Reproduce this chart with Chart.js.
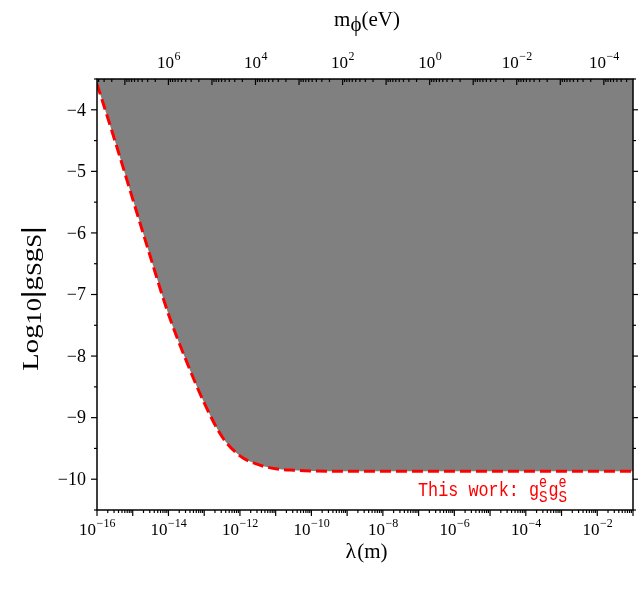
<!DOCTYPE html>
<html><head><meta charset="utf-8">
<script src="https://cdn.jsdelivr.net/npm/chart.js@4/dist/chart.umd.min.js"></script>
<style>html,body{margin:0;padding:0;background:#fff}canvas{display:block}</style>
</head><body>
<canvas id="c" width="638" height="590"></canvas>
<script>
// log10 of lambda (m) and log10 |g g| boundary
const logLambda = [-16, -15.5, -15, -14.5, -14, -13.5, -13, -12.5, -12, -11.5, -11, -10.5, -10, -9, -1];
const logG      = [-3.58, -4.50, -5.45, -6.40, -7.32, -8.08, -8.76, -9.31, -9.62, -9.76, -9.83, -9.855, -9.865, -9.87, -9.87];
const bottomTickExps = [-16, -14, -12, -10, -8, -6, -4, -2];
const topTickExps = [6, 4, 2, 0, -2, -4];
const yTickValues = [-4, -5, -6, -7, -8, -9, -10];
const xRange = [-16, -1];
const topRange = [-4.67, 7.64];
const yRange = [-10.5, -3.5];

const SERIF = '"Liberation Serif", "DejaVu Serif", serif';
const MONO = '"Liberation Mono", "DejaVu Sans Mono", monospace';
const fmt = n => (n < 0 ? '\u2212' + Math.abs(n) : String(n));

function drawPow(ctx, exp, cx, by) {
  ctx.font = '17px ' + SERIF;
  const wb = ctx.measureText('10').width;
  ctx.font = '12px ' + SERIF;
  const e = fmt(exp);
  const we = ctx.measureText(e).width;
  const x0 = cx - (wb + we) / 2;
  ctx.textAlign = 'left';
  ctx.textBaseline = 'alphabetic';
  ctx.font = '17px ' + SERIF;
  ctx.fillText('10', x0, by);
  ctx.font = '12px ' + SERIF;
  ctx.fillText(e, x0 + wb + 0.5, by - 8);
}

function drawPieces(ctx, pieces, cx, by, color) {
  let total = 0;
  pieces.forEach(p => { ctx.font = (p.b ? 'bold ' : '') + p.s + 'px ' + (p.f || SERIF); p.w = ctx.measureText(p.t).width + (p.gap || 0); total += p.w; });
  let x = cx - total / 2;
  ctx.fillStyle = color || '#000';
  ctx.textAlign = 'left';
  ctx.textBaseline = 'alphabetic';
  pieces.forEach(p => { ctx.font = (p.b ? 'bold ' : '') + p.s + 'px ' + (p.f || SERIF); ctx.fillText(p.t, x + (p.gap || 0) / 2, by + (p.dy || 0)); x += p.w; });
}

const decor = {
  id: 'decor',
  afterDraw(chart) {
    const ctx = chart.ctx;
    const a = chart.chartArea;
    const sx = chart.scales.x, st = chart.scales.x2, sy = chart.scales.y;
    ctx.save();
    ctx.strokeStyle = '#000';
    ctx.fillStyle = '#000';
    ctx.lineWidth = 1.5;
    ctx.strokeRect(a.left, a.top, a.right - a.left, a.bottom - a.top);
    ctx.lineWidth = 1.2;
    const line = (x1, y1, x2, y2) => { ctx.beginPath(); ctx.moveTo(x1, y1); ctx.lineTo(x2, y2); ctx.stroke(); };
    // bottom ticks (outward)
    for (let d = Math.ceil(xRange[0]); d <= xRange[1]; d++) {
      const px = sx.getPixelForValue(d);
      line(px, a.bottom, px, a.bottom + 6);
      for (let k = 2; k <= 9; k++) {
        const v = d + Math.log10(k);
        if (v < xRange[1]) { const p = sx.getPixelForValue(v); line(p, a.bottom, p, a.bottom + 3); }
      }
    }
    // top ticks (inward)
    for (let d = Math.floor(topRange[0]); d <= topRange[1]; d++) {
      if (d >= topRange[0]) { const px = st.getPixelForValue(d); line(px, a.top, px, a.top + 6); }
      for (let k = 2; k <= 9; k++) {
        const v = d + Math.log10(k);
        if (v > topRange[0] && v < topRange[1]) { const p = st.getPixelForValue(v); line(p, a.top, p, a.top + 3); }
      }
    }
    // left / right ticks
    for (let v = -10.5; v <= -3.5; v += 0.5) {
      const py = sy.getPixelForValue(v);
      const major = Number.isInteger(v);
      const len = major ? 6 : 3;
      line(a.left - len, py, a.left, py);
      line(a.right, py, a.right + len, py);
    }
    // tick labels
    bottomTickExps.forEach(e => drawPow(ctx, e, sx.getPixelForValue(e), 535));
    topTickExps.forEach(e => drawPow(ctx, e, st.getPixelForValue(e), 68));
    ctx.font = '18px ' + SERIF;
    ctx.textAlign = 'right';
    ctx.textBaseline = 'middle';
    yTickValues.forEach(v => ctx.fillText(fmt(v), 86, sy.getPixelForValue(v) + 1));
    // axis titles
    drawPieces(ctx, [{t: '\u03bb', s: 22}, {t: '(m)', s: 21, gap: 2}], (a.left + a.right) / 2 + 2, 558);
    drawPieces(ctx, [{t: 'm', s: 21}, {t: '\u03d5', s: 21, dy: 5}, {t: '(eV)', s: 21}], (a.left + a.right) / 2 + 2, 26);
    ctx.save();
    ctx.translate(38, (a.top + a.bottom) / 2 + 4);
    ctx.rotate(-Math.PI / 2);
    ctx.scale(1.25, 1);
    drawPieces(ctx, [{t: 'Log', s: 23}, {t: '10', s: 21, dy: 3}, {t: '|', s: 28, dy: 2, b: true}, {t: 'g', s: 23}, {t: 'S', s: 20, dy: 3}, {t: 'g', s: 23}, {t: 'S', s: 20, dy: 3}, {t: '|', s: 28, dy: 2, b: true}], 0, 0);
    ctx.restore();
    // annotation
    ctx.fillStyle = '#ff0000';
    ctx.textAlign = 'left';
    ctx.textBaseline = 'alphabetic';
    ctx.save();
    ctx.translate(418, 496);
    ctx.scale(0.84, 1);
    let x = 0;
    ctx.font = '20px ' + MONO;
    ctx.fillText('This work: ', x, 0); x += ctx.measureText('This work: ').width;
    for (let i = 0; i < 2; i++) {
      ctx.font = '20px ' + MONO; ctx.fillText('g', x, 0); x += ctx.measureText('g').width;
      ctx.font = '16px ' + MONO; ctx.fillText('e', x, -9);
      ctx.font = '17px ' + MONO; ctx.fillText('S', x, 6); x += ctx.measureText('S').width + 1;
    }
    ctx.restore();
    ctx.restore();
  }
};

new Chart(document.getElementById('c'), {
  type: 'line',
  data: {
    datasets: [{
      data: logLambda.map((v, i) => ({x: v, y: logG[i]})),
      borderColor: '#ff0000',
      borderWidth: 3,
      borderDash: [11, 5],
      backgroundColor: '#808080',
      fill: 'end',
      pointRadius: 0,
      cubicInterpolationMode: 'monotone'
    }]
  },
  options: {
    responsive: false,
    animation: false,
    events: [],
    layout: {padding: {left: 0, right: 5, top: 0, bottom: 0}},
    plugins: {legend: {display: false}, tooltip: {enabled: false}},
    scales: {
      x: {type: 'linear', position: 'bottom', min: xRange[0], max: xRange[1],
          grid: {display: false}, border: {display: false}, ticks: {display: false},
          afterFit(s) { s.height = 80; }},
      x2: {type: 'linear', position: 'top', reverse: true, min: topRange[0], max: topRange[1],
          grid: {display: false}, border: {display: false}, ticks: {display: false},
          afterFit(s) { s.height = 79; }},
      y: {type: 'linear', position: 'left', min: yRange[0], max: yRange[1],
          grid: {display: false}, border: {display: false}, ticks: {display: false},
          afterFit(s) { s.width = 97; }}
    }
  },
  plugins: [decor]
});
</script>
</body></html>
